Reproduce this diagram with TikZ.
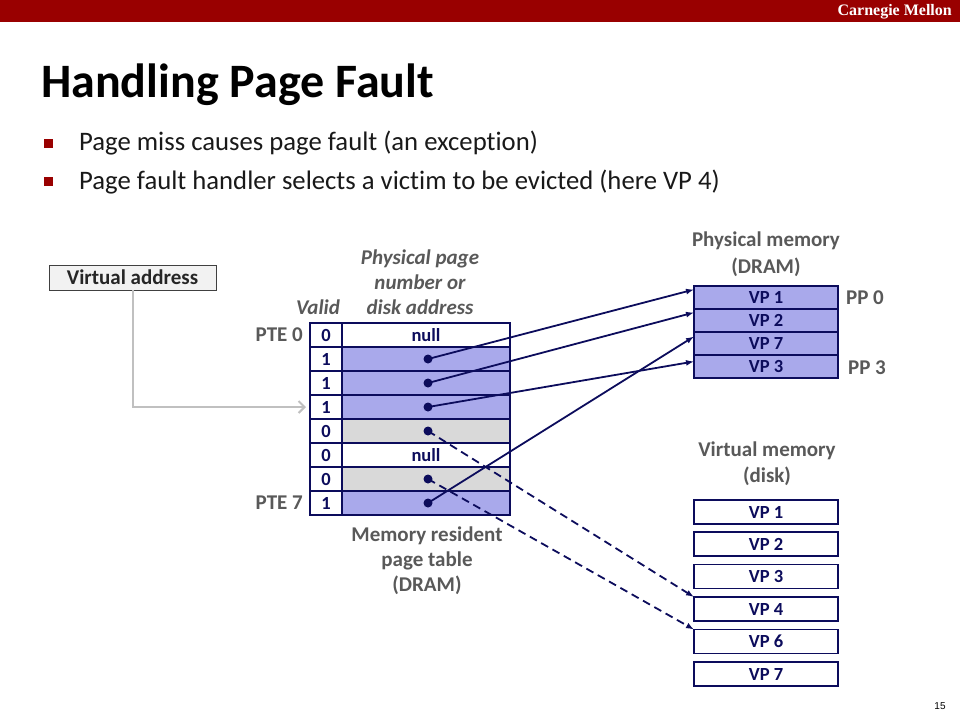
\documentclass[tikz,border=0pt]{standalone}
\usepackage{fontspec}
\setmainfont{Carlito}[Ligatures=NoCommon]
\newfontfamily\cmufont{Liberation Serif}
\newfontfamily\arialfont{Liberation Sans}
\usepackage{tikz}
\usetikzlibrary{arrows.meta}
\usetikzlibrary{calc}
\definecolor{cmured}{RGB}{153,0,0}
\definecolor{ptnavy}{RGB}{12,12,92}
\definecolor{ptblue}{RGB}{169,169,235}
\definecolor{ptgray}{RGB}{217,217,217}
\definecolor{lblgray}{RGB}{89,89,89}
\definecolor{vagray}{RGB}{192,192,192}
\tikzset{%
    cell/.style={
        draw=ptnavy, line width=1.8pt, inner sep=0pt, outer sep=0pt,
        minimum height=24pt, text=ptnavy,
        font=\fontsize{18.5}{18.5}\selectfont\bfseries
    },
    bitcell/.style={cell, fill=white, minimum width=32pt},
    ppncell/.style={cell, minimum width=168pt},
    memcell/.style={cell, minimum width=144pt, minimum height=23pt},
    diskcell/.style={memcell, fill=white, minimum height=24pt}
}
\tikzset{lbl/.style={text=lblgray, inner sep=0pt, align=center,
    font=\fontsize{21}{25}\selectfont\bfseries}}
\tikzset{ptr/.style={draw=ptnavy, line width=1.8pt, -{Latex[length=8pt,width=6pt]}}}

\begin{document}
\begin{tikzpicture}[x=1pt, y=-1pt]
		% Default action for each node
		\tikzstyle{dot}=[circle, fill=ptnavy, inner sep=0pt, minimum size=9pt];

		\useasboundingbox (0,0) rectangle (960,720);

		% header and title
		\fill[cmured] (0,0) rectangle (960,22);
		\node[anchor=east, text=white, inner sep=0pt, font=\cmufont\fontsize{16}{16}\selectfont\bfseries] (cmu) at (952,12) {Carnegie Mellon};
		\node[anchor=base west, inner sep=0pt, font=\fontsize{48}{52}\selectfont\bfseries] (title) at (41,97) {Handling Page Fault};
		\fill[cmured] (44,139) rectangle (53,148);
		\fill[cmured] (44,177) rectangle (53,186);
		\node[anchor=base west, inner sep=0pt, text=black!90, font=\fontsize{26.7}{30}\selectfont] (b1) at (79,150) {Page miss causes page fault (an exception)};
		\node[anchor=base west, inner sep=0pt, text=black!90, font=\fontsize{26.7}{30}\selectfont] (b2) at (79,189) {Page fault handler selects a victim to be evicted (here VP 4)};

		% page table
		\node[bitcell] (v0) at (326,335) {0};	\node[ppncell, fill=white] (p0) at (426,335) {null};
		\node[bitcell] (v1) at (326,359) {1};	\node[ppncell, fill=ptblue] (p1) at (426,359) {};
		\node[bitcell] (v2) at (326,383) {1};	\node[ppncell, fill=ptblue] (p2) at (426,383) {};
		\node[bitcell] (v3) at (326,407) {1};	\node[ppncell, fill=ptblue] (p3) at (426,407) {};
		\node[bitcell] (v4) at (326,431) {0};	\node[ppncell, fill=ptgray] (p4) at (426,431) {};
		\node[bitcell] (v5) at (326,455) {0};	\node[ppncell, fill=white] (p5) at (426,455) {null};
		\node[bitcell] (v6) at (326,479) {0};	\node[ppncell, fill=ptgray] (p6) at (426,479) {};
		\node[bitcell] (v7) at (326,503) {1};	\node[ppncell, fill=ptblue] (p7) at (426,503) {};

		\node[dot] (d1) at (428,359) {};
		\node[dot] (d2) at (428,383) {};
		\node[dot] (d3) at (428,407) {};
		\node[dot] (d4) at (428,431) {};
		\node[dot] (d6) at (428,479) {};
		\node[dot] (d7) at (428,503) {};

		\node[lbl, anchor=east] (pte0) at (303,335) {PTE 0};
		\node[lbl, anchor=east] (pte7) at (303,503) {PTE 7};
		\node[lbl, font=\fontsize{21}{25}\selectfont\bfseries\itshape] (valid) at (318,307) {Valid};
		\node[lbl, font=\fontsize{21}{25}\selectfont\bfseries\itshape] (ppnhead) at (420,282) {Physical page\\number or\\disk address};
		\node[lbl] (pthead) at (427,561) {Memory resident\\page table\\(DRAM)};

		% physical memory
		\node[memcell, fill=ptblue] (pm0) at (766,297.5) {VP 1};
		\node[memcell, fill=ptblue] (pm1) at (766,320.5) {VP 2};
		\node[memcell, fill=ptblue] (pm2) at (766,343.5) {VP 7};
		\node[memcell, fill=ptblue] (pm3) at (766,366.5) {VP 3};
		\node[lbl, font=\fontsize{21}{27}\selectfont\bfseries] (pmhead) at (766,254) {Physical memory\\(DRAM)};
		\node[lbl] (pp0) at (865,298) {PP 0};
		\node[lbl] (pp3) at (867,368) {PP 3};

		% virtual memory
		\node[diskcell] (dk1) at (766,512) {VP 1};
		\node[diskcell] (dk2) at (766,544) {VP 2};
		\node[diskcell] (dk3) at (766,576.5) {VP 3};
		\node[diskcell] (dk4) at (766,609) {VP 4};
		\node[diskcell] (dk6) at (766,641.5) {VP 6};
		\node[diskcell] (dk7) at (766,674) {VP 7};
		\node[lbl, font=\fontsize{21}{26}\selectfont\bfseries] (dkhead) at (767,464) {Virtual memory\\(disk)};

		% virtual address
		\node[draw=black!75, fill=black!5, line width=0.8pt, minimum width=167pt, minimum height=25pt, inner sep=0pt, font=\fontsize{21}{21}\selectfont\bfseries, text=black!85] (va) at (132.5,277.5) {Virtual address};
		\draw[vagray, line width=2pt, -{Straight Barb[length=6pt,width=12pt]}] (va.south) |- ([xshift=-4pt]v3.west);

		\draw[ptr] (d1.center) -- ([yshift=8pt]pm0.west);
		\draw[ptr] (d2.center) -- ([yshift=8pt]pm1.west);
		\draw[ptr] (d3.center) -- ([yshift=5pt]pm3.west);
		\draw[ptr] (d7.center) -- ([yshift=7pt]pm2.west);
		\draw[ptr, dash pattern=on 8pt off 5pt] (d4.center) -- (dk4.north west);
		\draw[ptr, dash pattern=on 8pt off 5pt] (d6.center) -- (dk6.north west);

		\node[inner sep=0pt, font=\arialfont\fontsize{10}{10}\selectfont] (pgno) at (940,706) {15};

	\end{tikzpicture}
\end{document}
